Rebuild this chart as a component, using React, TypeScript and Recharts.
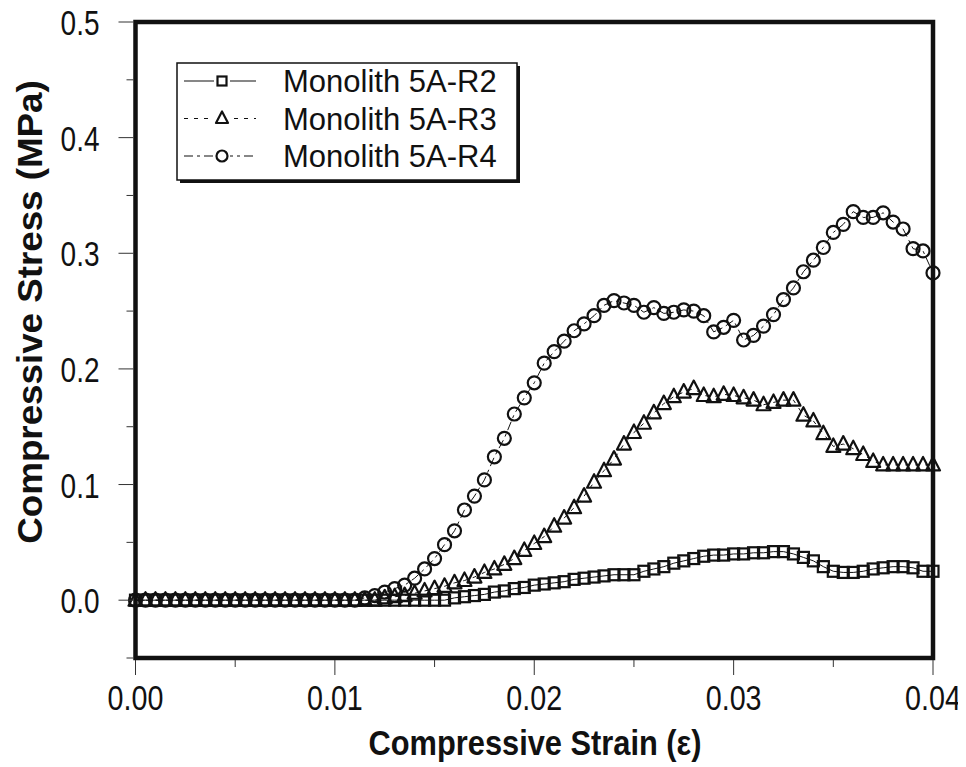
import React from 'react';
import { Line, LineChart, ReferenceArea, XAxis, YAxis, Label } from 'recharts';

const INK = '#111111';
const TICK_FONT = '"Liberation Sans", Arial, sans-serif';

const STRAIN = [
  0, 0.0005, 0.001, 0.0015, 0.002, 0.0025, 0.003, 0.0035, 0.004, 0.0045,
  0.005, 0.0055, 0.006, 0.0065, 0.007, 0.0075, 0.008, 0.0085, 0.009, 0.0095,
  0.01, 0.0105, 0.011, 0.0115, 0.012, 0.0125, 0.013, 0.0135, 0.014, 0.0145,
  0.015, 0.0155, 0.016, 0.0165, 0.017, 0.0175, 0.018, 0.0185, 0.019, 0.0195,
  0.02, 0.0205, 0.021, 0.0215, 0.022, 0.0225, 0.023, 0.0235, 0.024, 0.0245,
  0.025, 0.0255, 0.026, 0.0265, 0.027, 0.0275, 0.028, 0.0285, 0.029, 0.0295,
  0.03, 0.0305, 0.031, 0.0315, 0.032, 0.0325, 0.033, 0.0335, 0.034, 0.0345,
  0.035, 0.0355, 0.036, 0.0365, 0.037, 0.0375, 0.038, 0.0385, 0.039, 0.0395,
  0.04,
];

// Monolith 5A-R2 (squares)
const R2 = [
  0, 0, 0, 0, 0, 0, 0, 0, 0, 0,
  0, 0, 0, 0, 0, 0, 0, 0, 0, 0,
  0, 0, 0, 0, 0, 0, 0, 0, 0, 0,
  0, 0, 0.002, 0.003, 0.004, 0.005, 0.007, 0.008, 0.01, 0.011,
  0.013, 0.014, 0.015, 0.016, 0.018, 0.019, 0.02, 0.021, 0.022, 0.022,
  0.022, 0.025, 0.027, 0.029, 0.032, 0.034, 0.036, 0.038, 0.039, 0.039,
  0.04, 0.04, 0.041, 0.041, 0.042, 0.042, 0.04, 0.037, 0.034, 0.029,
  0.025, 0.024, 0.024, 0.025, 0.027, 0.028, 0.029, 0.029, 0.028, 0.025,
  0.025,
];

// Monolith 5A-R3 (triangles)
const R3 = [
  0, 0, 0, 0, 0, 0, 0, 0, 0, 0,
  0, 0, 0, 0, 0, 0, 0, 0, 0, 0,
  0, 0, 0, 0, 0, 0.002, 0.003, 0.004, 0.006, 0.008,
  0.01, 0.012, 0.015, 0.017, 0.02, 0.024, 0.027, 0.031, 0.036, 0.043,
  0.049, 0.055, 0.064, 0.071, 0.08, 0.09, 0.102, 0.112, 0.122, 0.135,
  0.145, 0.153, 0.162, 0.17, 0.176, 0.18, 0.183, 0.177, 0.176, 0.178,
  0.177, 0.175, 0.173, 0.169, 0.171, 0.173, 0.173, 0.16, 0.155, 0.144,
  0.133, 0.135, 0.131, 0.126, 0.12, 0.117, 0.117, 0.117, 0.117, 0.117,
  0.117,
];

// Monolith 5A-R4 (circles)
const R4 = [
  0, 0, 0, 0, 0, 0, 0, 0, 0, 0,
  0, 0, 0, 0, 0, 0, 0, 0, 0, 0,
  0, 0, 0, 0.002, 0.004, 0.007, 0.01, 0.013, 0.019, 0.027,
  0.036, 0.048, 0.06, 0.078, 0.09, 0.104, 0.124, 0.14, 0.161, 0.175,
  0.188, 0.205, 0.215, 0.224, 0.233, 0.239, 0.246, 0.255, 0.259, 0.257,
  0.255, 0.249, 0.253, 0.248, 0.249, 0.251, 0.25, 0.246, 0.232, 0.236,
  0.242, 0.225, 0.229, 0.237, 0.247, 0.26, 0.27, 0.284, 0.294, 0.305,
  0.318, 0.325, 0.336, 0.331, 0.331, 0.335, 0.327, 0.321, 0.304, 0.302,
  0.283,
];

const SERIES = ['Monolith 5A-R2', 'Monolith 5A-R3', 'Monolith 5A-R4'];

const X_TICKS = [0, 0.005, 0.01, 0.015, 0.02, 0.025, 0.03, 0.035, 0.04];
const X_MAJOR = [0, 0.01, 0.02, 0.03, 0.04];
const Y_TICKS = [-0.05, 0, 0.05, 0.1, 0.15, 0.2, 0.25, 0.3, 0.35, 0.4, 0.45, 0.5];
const Y_MAJOR = [0, 0.1, 0.2, 0.3, 0.4, 0.5];

const data = STRAIN.map((x, i) => ({ x, r2: R2[i], r3: R3[i], r4: R4[i] }));

const isMajor = (list: number[], v: number) => list.some((m) => Math.abs(m - v) < 1e-9);

function Square({ cx, cy, s = 5.5 }: any) {
  return <rect x={cx - s} y={cy - s} width={s * 2} height={s * 2} fill="none" stroke={INK} strokeWidth={2.2} />;
}
function Tri({ cx, cy, s = 7 }: any) {
  return (
    <polygon
      points={`${cx},${cy - s - 1} ${cx - s},${cy + s - 1.5} ${cx + s},${cy + s - 1.5}`}
      fill="none"
      stroke={INK}
      strokeWidth={2.2}
      strokeLinejoin="round"
    />
  );
}
function Circ({ cx, cy, r = 6.5 }: any) {
  return <circle cx={cx} cy={cy} r={r} fill="none" stroke={INK} strokeWidth={2.2} />;
}

function XTick({ x, y, payload }: any) {
  const major = isMajor(X_MAJOR, payload.value);
  return (
    <g>
      <line x1={x} y1={y + 2} x2={x} y2={y + (major ? 17 : 9)} stroke="#333" strokeWidth={1} />
      {major && (
        <g transform={`translate(${x},${y + 52}) scale(0.82,1)`}>
          <text textAnchor="middle" fontFamily={TICK_FONT} fontSize={35} fill={INK}>
            {payload.value.toFixed(2)}
          </text>
        </g>
      )}
    </g>
  );
}

function YTick({ x, y, payload }: any) {
  const major = isMajor(Y_MAJOR, payload.value);
  return (
    <g>
      <line x1={x - 2} y1={y} x2={x - (major ? 17 : 9)} y2={y} stroke="#333" strokeWidth={1} />
      {major && (
        <g transform={`translate(${x - 36},${y + 13}) scale(0.8,1)`}>
          <text textAnchor="end" fontFamily={TICK_FONT} fontSize={35} fill={INK}>
            {payload.value.toFixed(1)}
          </text>
        </g>
      )}
    </g>
  );
}

function LegendBox() {
  const rows = [
    { dash: undefined, mark: (cx: number, cy: number) => <Square cx={cx} cy={cy} s={4.5} /> },
    { dash: '4 6', mark: (cx: number, cy: number) => <Tri cx={cx} cy={cy} s={6} /> },
    { dash: '9 4 3 4', mark: (cx: number, cy: number) => <Circ cx={cx} cy={cy} r={5.5} /> },
  ];
  return (
    <svg width={346} height={124} style={{ display: 'block' }}>
      <rect x={4} y={4} width={340} height={117} fill={INK} />
      <rect x={1} y={1} width={340} height={117} fill="#fff" stroke={INK} strokeWidth={1.5} />
      {rows.map((r, i) => {
        const cy = 19 + i * 37.5;
        return (
          <g key={SERIES[i]}>
            <line x1={8} y1={cy} x2={80} y2={cy} stroke={INK} strokeWidth={1.2} strokeDasharray={r.dash} />
            <rect x={38} y={cy - 7} width={16} height={14} fill="#fff" />
            {r.mark(46, cy)}
            <text x={107} y={cy + 11} fontFamily={TICK_FONT} fontSize={31} fill={INK}>
              {SERIES[i]}
            </text>
          </g>
        );
      })}
    </svg>
  );
}

export default function App() {
  return (
    <div style={{ position: 'relative', width: 958, height: 759, background: '#fff' }}>
      <LineChart
        width={958}
        height={759}
        data={data}
        margin={{ top: 14, right: 33, bottom: 8, left: 0 }}
        style={{ overflow: 'visible' }}
      >
        <XAxis
          dataKey="x"
          type="number"
          domain={[0, 0.04]}
          ticks={X_TICKS}
          height={101}
          axisLine={false}
          tickLine={false}
          tickSize={0}
          tickMargin={0}
          tick={<XTick />}
          interval={0}
        >
          <Label
            content={() => (
              <g transform="translate(527,747) scale(0.88,1)">
                <text textAnchor="middle" fontFamily={TICK_FONT} fontWeight="bold" fontSize={35} fill={INK}>
                  Compressive Strain (ε)
                </text>
              </g>
            )}
          />
        </XAxis>
        <YAxis
          type="number"
          domain={[-0.05, 0.5]}
          ticks={Y_TICKS}
          width={127.5}
          axisLine={false}
          tickLine={false}
          tickSize={0}
          tickMargin={0}
          tick={<YTick />}
          interval={0}
        >
          <Label
            content={() => (
              <g transform="translate(34,304) rotate(-90) scale(1.05,1)">
                <text textAnchor="middle" fontFamily={TICK_FONT} fontWeight="bold" fontSize={35} fill={INK}>
                  Compressive Stress (MPa)
                </text>
              </g>
            )}
          />
        </YAxis>
        <ReferenceArea
          x1={0}
          x2={0.04}
          y1={-0.05}
          y2={0.5}
          fill="none"
          stroke={INK}
          strokeWidth={4.5}
          ifOverflow="visible"
        />
        <Line
          dataKey="r2"
          name={SERIES[0]}
          stroke={INK}
          strokeWidth={1}
          isAnimationActive={false}
          dot={(p: any) => <Square key={`s${p.index}`} cx={p.cx} cy={p.cy} />}
        />
        <Line
          dataKey="r3"
          name={SERIES[1]}
          stroke={INK}
          strokeWidth={1}
          strokeDasharray="4 6"
          isAnimationActive={false}
          dot={(p: any) => <Tri key={`t${p.index}`} cx={p.cx} cy={p.cy} />}
        />
        <Line
          dataKey="r4"
          name={SERIES[2]}
          stroke={INK}
          strokeWidth={1}
          strokeDasharray="9 4 3 4"
          isAnimationActive={false}
          dot={(p: any) => <Circ key={`c${p.index}`} cx={p.cx} cy={p.cy} />}
        />
      </LineChart>
      <div style={{ position: 'absolute', left: 168, top: 54 }}>
        <LegendBox />
      </div>
    </div>
  );
}
